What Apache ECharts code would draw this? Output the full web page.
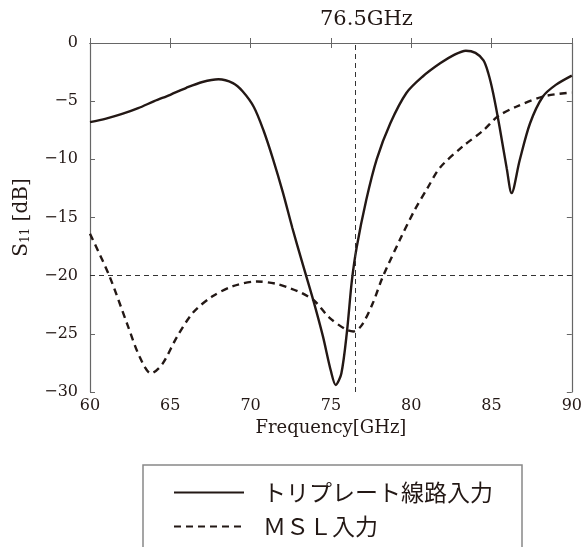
<!DOCTYPE html>
<html style="height: 100%">
<head>
    <meta charset="utf-8">
    <title>S11</title>
</head>
<body style="height: 100%; margin: 0; background: #fff;">
    <div id="container" style="width: 585px; height: 547px;"></div>
    <script src="https://cdn.jsdelivr.net/npm/echarts/dist/echarts.min.js"></script>
    <script type="text/javascript">
        // トリプレート線路入力 (solid)
        var triFreq = [60, 61, 62, 63, 64, 65, 66, 67, 68, 68.9, 69.5, 70.2, 70.8, 71.4, 72.0, 72.6, 73.2, 73.9,
            74.5, 75.0, 75.3, 75.65, 76.0, 76.3, 76.6, 77.2, 77.85, 78.7, 79.7, 80.7, 81.8, 82.7, 83.4, 84.0,
            84.5, 84.8, 85.1, 85.5, 85.95, 86.25, 86.75, 87.4, 88.2, 89.0, 90];
        var triS11 = [-6.8, -6.5, -6.1, -5.6, -5.0, -4.45, -3.85, -3.35, -3.12, -3.45, -4.15, -5.5, -7.5, -10.0,
            -12.8, -15.9, -18.8, -22.1, -25.2, -28.2, -29.4, -28.4, -24.8, -20.5, -17.6, -13.5, -10.0, -6.9,
            -4.3, -2.9, -1.75, -1.0, -0.66, -0.85, -1.5, -2.6, -4.3, -7.2, -10.8, -12.9, -10.1, -6.9, -4.6, -3.6, -2.8];

        // MSL入力 (dashed)
        var mslFreq = [60, 61.2, 62.3, 63.1, 63.8, 64.5, 65.4, 66.4, 67.6, 68.9, 70.4, 71.6, 72.5, 73.2, 74.0,
            74.9, 75.9, 76.4, 76.9, 77.6, 78.2, 79.3, 80.2, 81.0, 81.8, 83.2, 84.5, 85.4, 86.5, 88.2, 90];
        var mslS11 = [-16.4, -20.0, -24.1, -27.0, -28.4, -27.6, -25.3, -23.2, -21.8, -20.9, -20.5, -20.7, -21.1,
            -21.5, -22.2, -23.6, -24.6, -24.8, -24.3, -22.4, -20.2, -16.9, -14.4, -12.5, -10.7, -8.9, -7.5,
            -6.3, -5.5, -4.6, -4.25];

        var seriesNames = ['トリプレート線路入力', 'ＭＳＬ入力'];
        var markFreq = 76.5;
        var markLevel = -20;
        var titleText = '76.5GHz';

        function pairs(xs, ys) {
            return xs.map(function (x, i) { return [x, ys[i]]; });
        }

        var ink = '#231815';
        var frame = '#666';
        var serif = 'DejaVu Serif';

        var dom = document.getElementById('container');
        var myChart = echarts.init(dom);

        var tickCommon = { show: true, inside: true, length: 5, lineStyle: { color: frame, width: 1 } };
        var lineCommon = { show: true, lineStyle: { color: frame, width: 1.2 } };

        option = {
            animation: false,
            title: {
                text: titleText,
                left: 315,
                top: 4,
                textStyle: { fontFamily: serif, fontSize: 21, fontWeight: 'normal', color: ink }
            },
            grid: { left: 90, right: 13, top: 43, bottom: 155 },
            legend: {
                orient: 'vertical',
                left: 143,
                top: 465,
                height: 150,
                padding: [16, 29, 16, 30],
                itemGap: 11,
                itemWidth: 70,
                itemHeight: 14,
                borderColor: '#888',
                borderWidth: 1.5,
                itemStyle: { opacity: 0 },
                textStyle: { fontFamily: 'Noto Sans CJK JP', fontSize: 23, color: ink, padding: [0, 0, 0, 14] },
                data: seriesNames
            },
            xAxis: [{
                type: 'value', min: 60, max: 90, interval: 5,
                axisLine: lineCommon, axisTick: tickCommon, splitLine: { show: false },
                axisLabel: { margin: 6, fontFamily: serif, fontSize: 16, color: ink },
                name: 'Frequency[GHz]', nameLocation: 'middle', nameGap: 21,
                nameTextStyle: { fontFamily: serif, fontSize: 18, color: ink }
            }, {
                type: 'value', min: 60, max: 90, interval: 5, position: 'top',
                axisLine: lineCommon, axisTick: tickCommon, splitLine: { show: false },
                axisLabel: { show: false }
            }],
            yAxis: [{
                type: 'value', min: -30, max: 0, interval: 5,
                axisLine: lineCommon, axisTick: tickCommon, splitLine: { show: false },
                axisLabel: {
                    margin: 12, fontFamily: serif, fontSize: 16, color: ink,
                    formatter: function (v) { return String(v).replace('-', '\u2212'); }
                },
                name: '{s|S}{sub|11}{s| [dB]}', nameLocation: 'middle', nameGap: 58, nameRotate: 90,
                nameTextStyle: {
                    rich: {
                        s: { fontFamily: serif, fontSize: 20, color: ink, lineHeight: 24, verticalAlign: 'bottom' },
                        sub: { fontFamily: serif, fontSize: 12, color: ink, lineHeight: 24, verticalAlign: 'bottom' }
                    }
                }
            }, {
                type: 'value', min: -30, max: 0, interval: 5, position: 'right',
                axisLine: lineCommon, axisTick: tickCommon, splitLine: { show: false },
                axisLabel: { show: false }
            }],
            series: [{
                name: seriesNames[0],
                type: 'line',
                data: pairs(triFreq, triS11),
                smooth: 0.3,
                symbol: 'none',
                lineStyle: { color: ink, width: 2.4, type: 'solid' },
                itemStyle: { color: ink },
                markLine: {
                    silent: true,
                    symbol: 'none',
                    label: { show: false },
                    lineStyle: { color: '#333', width: 1, type: [5, 4] },
                    data: [{ xAxis: markFreq }, { yAxis: markLevel }]
                },
                z: 3
            }, {
                name: seriesNames[1],
                type: 'line',
                data: pairs(mslFreq, mslS11),
                smooth: 0.3,
                symbol: 'none',
                lineStyle: { color: ink, width: 2.4, type: [7, 5] },
                itemStyle: { color: ink },
                z: 2
            }]
        };

        if (option && typeof option === "object") {
            myChart.setOption(option, true);
        }
    </script>
</body>
</html>
